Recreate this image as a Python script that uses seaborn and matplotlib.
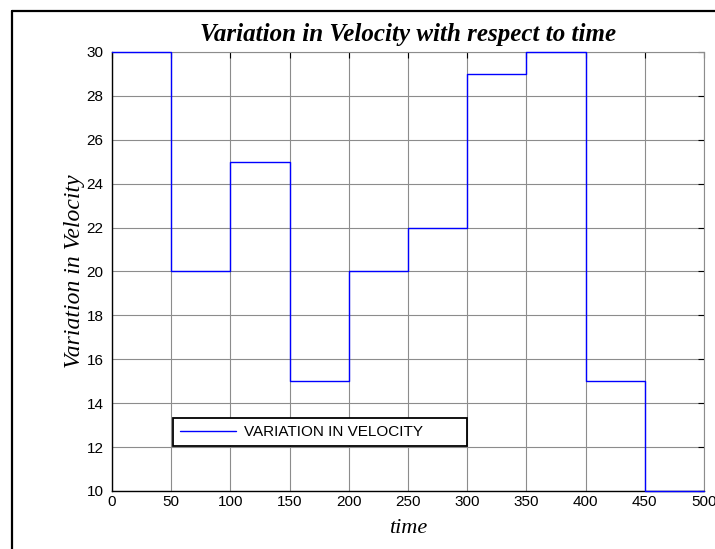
import matplotlib
matplotlib.use("Agg")
import matplotlib.pyplot as plt
from matplotlib.lines import Line2D
import pandas as pd
import seaborn as sns

# Step breakpoints (time) and the velocity held from each breakpoint onward
time_breaks = [0, 50, 100, 150, 200, 250, 300, 350, 400, 450, 500]
velocity = [30, 20, 25, 15, 20, 22, 29, 30, 15, 10, 10]
x_ticks = [0, 50, 100, 150, 200, 250, 300, 350, 400, 450, 500]
y_ticks = [10, 12, 14, 16, 18, 20, 22, 24, 26, 28, 30]
series_label = "VARIATION IN VELOCITY"

sns.set_style("white")
plt.rcParams["font.family"] = ["Liberation Sans", "DejaVu Sans"]
plt.rcParams["text.color"] = "black"
plt.rcParams["axes.labelcolor"] = "black"
plt.rcParams["axes.titlecolor"] = "black"

df = pd.DataFrame({"time": time_breaks, "velocity": velocity})

W, H = 715, 549
fig = plt.figure(figsize=(W / 100, H / 100), dpi=100)
fig.patch.set_facecolor("white")

left, right, top, bottom = 112, 704, 52, 491
ax = fig.add_axes([left / W, (H - bottom) / H, (right - left) / W, (bottom - top) / H])

sns.lineplot(data=df, x="time", y="velocity", drawstyle="steps-post",
             color="#0000ff", linewidth=1.0, ax=ax, label=series_label,
             clip_on=False, zorder=3)

ax.set_xlim(0, 500)
ax.set_ylim(10, 30)
ax.set_xticks(x_ticks)
ax.set_yticks(y_ticks)
ax.set_xticklabels([str(v) for v in x_ticks], fontsize=11)
ax.set_yticklabels([str(v) for v in y_ticks], fontsize=11)
ax.tick_params(axis="both", direction="in", length=4, width=0.8,
               top=True, right=True, colors="black", labelcolor="black")
ax.tick_params(axis="x", pad=3)
ax.tick_params(axis="y", pad=6)

ax.set_axisbelow(True)
ax.grid(True, color="#8c8c8c", linewidth=0.8, linestyle="-")

for side in ("left", "bottom"):
    ax.spines[side].set_color("black")
    ax.spines[side].set_linewidth(1.0)
for side in ("top", "right"):
    ax.spines[side].set_color("#8c8c8c")
    ax.spines[side].set_linewidth(0.8)

serif = ["Liberation Serif", "DejaVu Serif"]
ax.set_title("Variation in Velocity with respect to time", family=serif,
             fontsize=18, fontweight="bold", style="italic", pad=8,
             color="black")
ax.set_xlabel("time", family=serif, fontsize=16, style="italic", labelpad=7,
              color="black")
ax.set_ylabel("Variation in Velocity", family=serif, fontsize=17, style="italic",
              labelpad=1, color="black")

leg = ax.legend(loc="lower left", bbox_to_anchor=(0.103, 0.1025, 0.497, 0.064),
                mode="expand", borderaxespad=0, fontsize=11, fancybox=False,
                framealpha=1, edgecolor="black", handlelength=3.7,
                handletextpad=0.5, borderpad=0.45)
leg.get_frame().set_linewidth(1.3)
for t in leg.get_texts():
    t.set_color("black")

# Outer frame around the figure (left and top edges visible)
fig.add_artist(Line2D([12 / W, 12 / W], [0, 1 - 11 / H], transform=fig.transFigure,
                      color="black", linewidth=1.6))
fig.add_artist(Line2D([12 / W, 1], [1 - 11 / H, 1 - 11 / H], transform=fig.transFigure,
                      color="black", linewidth=1.6))

fig.savefig("out.png", dpi=100)
